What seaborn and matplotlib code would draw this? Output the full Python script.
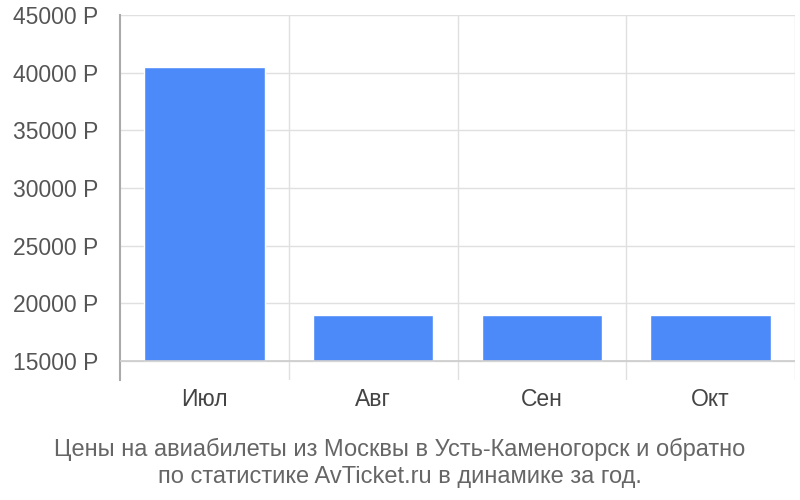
import seaborn as sns
import pandas as pd
import matplotlib.pyplot as plt
from matplotlib.ticker import FixedLocator, FuncFormatter

months = ['Июл', 'Авг', 'Сен', 'Окт']
prices = [40500, 18950, 18950, 18950]
base = 15000
yticks = [15000, 20000, 25000, 30000, 35000, 40000, 45000]
title = ('Цены на авиабилеты из Москвы в Усть-Каменогорск и обратно\n'
         'по статистике AvTicket.ru в динамике за год.')

sns.set_style('white')
plt.rcParams['font.family'] = ['Liberation Sans', 'DejaVu Sans']

df = pd.DataFrame({'month': months, 'price': prices})
df['height'] = df['price'] - base

fig = plt.figure(figsize=(8, 5), dpi=100)
ax = fig.add_axes([0.15, 0.24, 0.84375, 0.73])

sns.barplot(data=df, x='month', y='height', color='#4d8af9', saturation=1,
            width=0.715, bottom=base, ax=ax, zorder=3)

ax.set_xlim(-0.5, 3.5)
ax.set_ylim(13350, 45000)
ax.yaxis.set_major_locator(FixedLocator(yticks))
ax.yaxis.set_major_formatter(FuncFormatter(lambda v, p: f'{int(v)} Р'))

# vertical separators between months
ax.set_xticks([0, 1, 2, 3])
ax.set_xticks([0.5, 1.5, 2.5, 3.5], minor=True)
ax.grid(True, which='minor', axis='x', color='#e0e0e0', lw=1)
ax.grid(True, which='major', axis='y', color='#e0e0e0', lw=1)
ax.axhline(base, color='#cccccc', lw=1.2, zorder=4)

for s in ['top', 'right', 'bottom']:
    ax.spines[s].set_visible(False)
ax.spines['left'].set_color('#aaaaaa')
ax.spines['left'].set_linewidth(1.5)

ax.tick_params(axis='y', length=14.4, width=1, color='#e0e0e0', pad=1,
               labelsize=16.5, labelcolor='#555555', direction='out')
ax.tick_params(axis='x', which='both', length=0, pad=6,
               labelsize=16.5, labelcolor='#444444')
ax.set_xlabel('')
ax.set_ylabel('')

fig.text(0.5, 0.075, title, ha='center', va='center', fontsize=17,
         color='#666666', linespacing=1.3)

plt.savefig('out.png', dpi=100)
